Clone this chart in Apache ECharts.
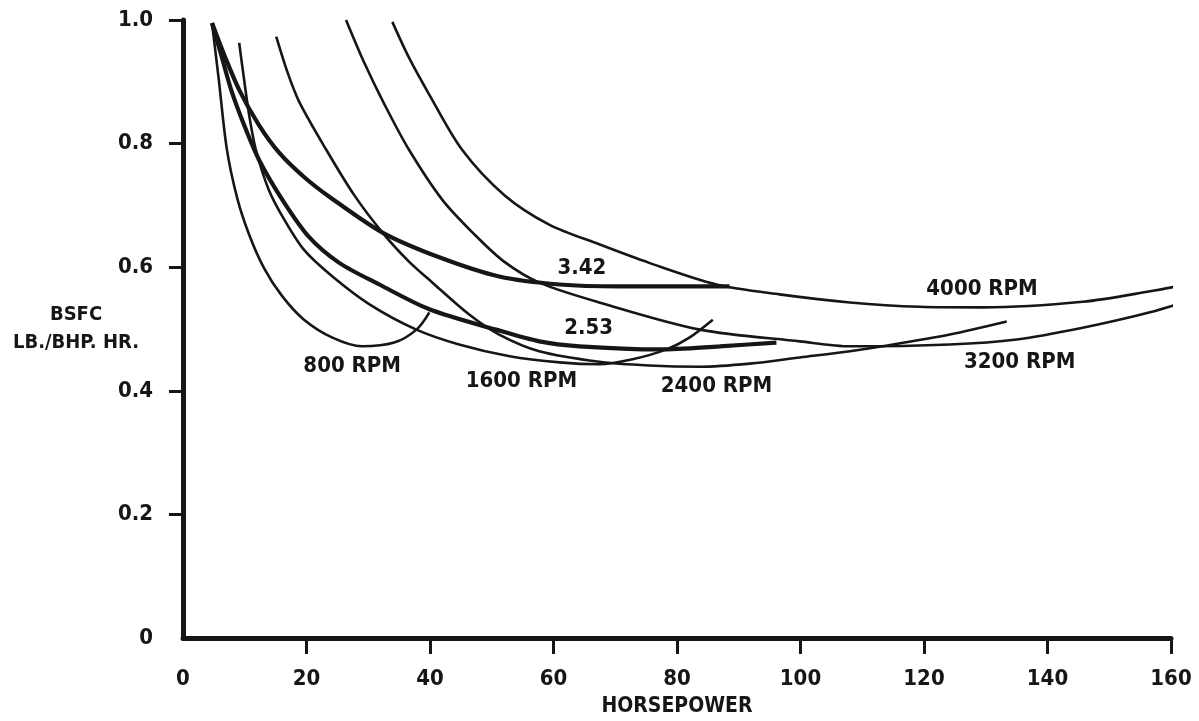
<!DOCTYPE html>
<html>
<head>
<meta charset="utf-8">
<script src="https://cdn.jsdelivr.net/npm/echarts@6/dist/echarts.min.js"></script>
<style>
  html, body { margin: 0; padding: 0; background: #fff; }
  #chart { width: 1199px; height: 721px; }
</style>
</head>
<body>
<div id="chart"></div>
<script>
// tick values
var xTicks = [0, 20, 40, 60, 80, 100, 120, 140, 160];
var yTicks = [0, 0.2, 0.4, 0.6, 0.8, 1.0];

// constant speed curves, [horsepower, bsfc]
var rpm800 = [
    [4.7, 0.995], [5.8, 0.903], [7.1, 0.791], [8.8, 0.711], [10.7, 0.653],
    [13.1, 0.599], [16.0, 0.554], [19.6, 0.515], [24.2, 0.486], [29.0, 0.472],
    [34.2, 0.478], [37.8, 0.499], [39.9, 0.527]
];
var rpm1600 = [
    [9.1, 0.963], [9.9, 0.903], [10.7, 0.847], [11.8, 0.790], [13.9, 0.725],
    [16.4, 0.677], [19.6, 0.628], [24.2, 0.585], [30.2, 0.540], [37.8, 0.499],
    [44.7, 0.475], [52.9, 0.456], [61.0, 0.446], [67.4, 0.443], [72.8, 0.451],
    [78.3, 0.467], [82.0, 0.486], [85.8, 0.515]
];
var rpm2400 = [
    [15.1, 0.973], [16.9, 0.916], [18.8, 0.868], [23.2, 0.790], [27.7, 0.717],
    [32.3, 0.656], [36.6, 0.609], [40.4, 0.575], [46.4, 0.523], [51.2, 0.491],
    [57.7, 0.464], [67.4, 0.447], [75.5, 0.441], [83.7, 0.439], [91.8, 0.444],
    [99.9, 0.454], [108.0, 0.464], [113.3, 0.472], [124.2, 0.491], [133.4, 0.512]
];
var rpm3200 = [
    [26.4, 1.0], [29.3, 0.932], [32.6, 0.864], [36.6, 0.790], [42.0, 0.709],
    [47.2, 0.653], [52.0, 0.609], [57.7, 0.575], [67.4, 0.543], [83.7, 0.499],
    [99.9, 0.480], [108.0, 0.472], [124.2, 0.475], [135.0, 0.483], [145.7, 0.502],
    [156.6, 0.527], [164.5, 0.551]
];
var rpm4000 = [
    [33.9, 0.997], [36.6, 0.939], [39.9, 0.879], [45.2, 0.790], [52.0, 0.717],
    [59.3, 0.669], [67.4, 0.637], [75.5, 0.607], [86.4, 0.572], [96.6, 0.556],
    [108.0, 0.543], [119.3, 0.536], [129.5, 0.535], [145.7, 0.544], [156.6, 0.561],
    [164.2, 0.575]
];

// road load curves for the two axle ratios
var ratio342 = [
    [4.7, 0.995], [6.7, 0.943], [9.1, 0.887], [12.3, 0.830], [15.6, 0.785],
    [19.6, 0.746], [23.7, 0.714], [32.3, 0.656], [41.5, 0.616], [51.2, 0.585],
    [61.0, 0.572], [70.7, 0.569], [80.4, 0.569], [88.5, 0.569]
];
var ratio253 = [
    [4.7, 0.995], [6.2, 0.943], [7.8, 0.887], [9.9, 0.830], [12.3, 0.774],
    [16.1, 0.709], [20.4, 0.649], [25.3, 0.607], [31.8, 0.572], [39.9, 0.532],
    [50.7, 0.499], [57.7, 0.480], [64.2, 0.472], [77.2, 0.467], [86.9, 0.472],
    [96.1, 0.478]
];

// curve labels
var labelNames = ['800 RPM', '1600 RPM', '2400 RPM', '3200 RPM', '4000 RPM', '3.42', '2.53'];
var labelAt = [[27.4, 0.439], [54.8, 0.415], [86.4, 0.408], [135.5, 0.446], [129.4, 0.564], [64.6, 0.598], [65.7, 0.501]];

var FONT = "'Liberation Sans Narrow', 'DejaVu Sans Condensed', 'Liberation Sans', sans-serif";
var INK = '#161616';

function curve(name, data, width) {
    return {
        name: name,
        type: 'line',
        data: data,
        smooth: 0.3,
        symbol: 'none',
        clip: false,
        silent: true,
        lineStyle: { color: INK, width: width }
    };
}

var chart = echarts.init(document.getElementById('chart'));

var option = {
    backgroundColor: '#fff',
    animation: false,
    grid: { left: 183, right: 28, top: 20, bottom: 83, containLabel: false, outerBoundsMode: 'none' },
    xAxis: {
        type: 'value',
        min: 0,
        max: 160,
        interval: 20,
        name: 'HORSEPOWER',
        nameLocation: 'middle',
        nameGap: 58,
        nameMoveOverlap: false,
        nameTextStyle: { fontFamily: FONT, fontWeight: 'bold', fontSize: 21, color: INK },
        axisLine: { lineStyle: { color: INK, width: 5 } },
        axisTick: { length: 16, customValues: xTicks.slice(1), lineStyle: { color: INK, width: 3 } },
        axisLabel: {
            customValues: xTicks,
            margin: 30,
            fontFamily: FONT, fontWeight: 'bold', fontSize: 22, color: INK
        },
        splitLine: { show: false }
    },
    yAxis: {
        type: 'value',
        min: 0,
        max: 1.0,
        interval: 0.2,
        name: 'BSFC\nLB./BHP. HR.',
        nameLocation: 'middle',
        nameRotate: 0,
        nameGap: 107,
        nameMoveOverlap: false,
        nameTextStyle: {
            fontFamily: FONT, fontWeight: 'bold', fontSize: 20, color: INK,
            align: 'center', verticalAlign: 'middle', lineHeight: 28
        },
        axisLine: { lineStyle: { color: INK, width: 5 } },
        axisTick: { length: 14, customValues: yTicks.slice(1), lineStyle: { color: INK, width: 3 } },
        axisLabel: {
            customValues: yTicks,
            margin: 30,
            fontFamily: FONT, fontWeight: 'bold', fontSize: 22, color: INK,
            formatter: function(v) { return v === 0 ? '0' : v.toFixed(1); }
        },
        splitLine: { show: false }
    },
    series: [
        curve('800 RPM', rpm800, 2.6),
        curve('1600 RPM', rpm1600, 2.6),
        curve('2400 RPM', rpm2400, 2.6),
        curve('3200 RPM', rpm3200, 2.6),
        curve('4000 RPM', rpm4000, 2.6),
        curve('3.42', ratio342, 4.2),
        curve('2.53', ratio253, 4.2),
        {
            name: 'labels',
            type: 'scatter',
            symbolSize: 0,
            silent: true,
            itemStyle: { opacity: 1 },
            data: labelNames.map(function(n, i) {
                return { name: n, value: labelAt[i] };
            }),
            label: {
                show: true,
                position: 'inside',
                formatter: '{b}',
                opacity: 1,
                fontFamily: FONT, fontWeight: 'bold', fontSize: 22, color: INK
            }
        }
    ]
};

chart.setOption(option);
</script>
</body>
</html>
